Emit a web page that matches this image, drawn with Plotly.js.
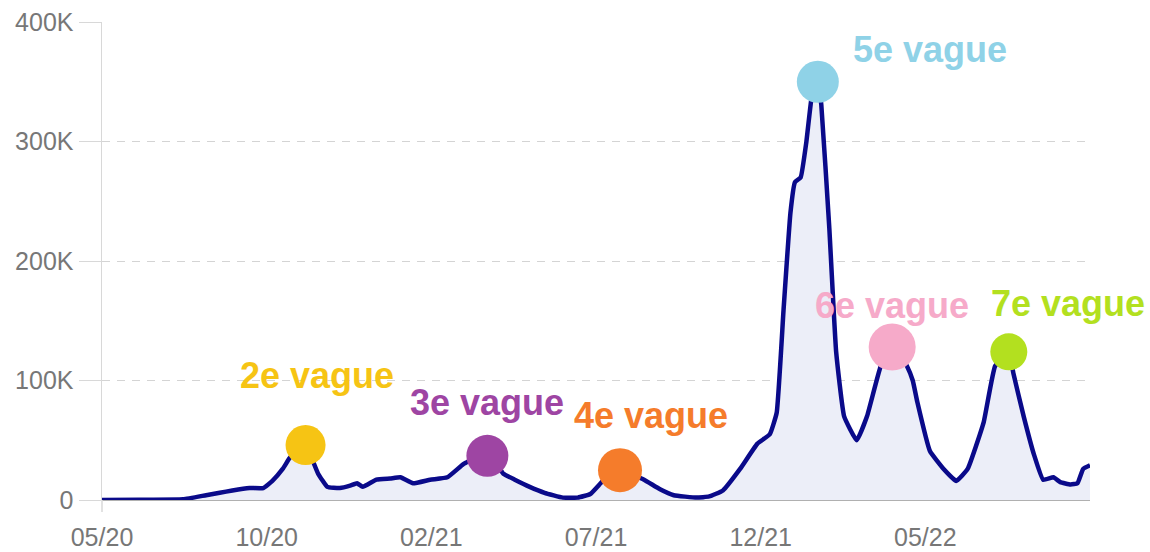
<!DOCTYPE html>
<html>
<head>
<meta charset="utf-8">
<script src="https://cdn.plot.ly/plotly-3.0.1.min.js"></script>
<style>
  html, body { margin: 0; padding: 0; background: #ffffff; }
  #chart { width: 1150px; height: 552px; }
</style>
</head>
<body>
<div id="chart"></div>
<script>
// ---- Data ----
const dates = [
  '2020-05-14','2020-06-16','2020-07-24','2020-08-13','2020-08-25','2020-09-05','2020-09-20','2020-10-02',
  '2020-10-10','2020-10-19','2020-10-25','2020-11-01','2020-11-08','2020-11-13','2020-11-19','2020-11-27',
  '2020-12-08','2020-12-17','2020-12-23','2020-12-28','2021-01-09','2021-01-21','2021-01-30','2021-02-10',
  '2021-02-25','2021-03-12','2021-03-26','2021-04-05','2021-04-16','2021-04-24','2021-04-30','2021-05-10',
  '2021-05-23','2021-06-05','2021-06-21','2021-07-04','2021-07-15','2021-07-24','2021-08-01','2021-08-10',
  '2021-08-21','2021-08-31','2021-09-14','2021-09-26','2021-10-16','2021-10-27','2021-11-08','2021-11-23',
  '2021-12-08','2021-12-19','2021-12-25','2021-12-31','2022-01-06','2022-01-10','2022-01-15','2022-01-20',
  '2022-01-25','2022-01-30','2022-02-02','2022-02-09','2022-02-15','2022-02-22','2022-03-05','2022-03-14',
  '2022-03-26','2022-04-06','2022-04-18','2022-04-23','2022-04-27','2022-05-08','2022-05-20','2022-05-31',
  '2022-06-10','2022-06-24','2022-07-04','2022-07-16','2022-07-20','2022-07-29','2022-08-07','2022-08-15',
  '2022-08-24','2022-08-30','2022-09-08','2022-09-14','2022-09-19','2022-09-25'
];
const cases = [
  0, 200, 600, 4000, 6000, 8000, 10000, 10000,
  16000, 26000, 35000, 42000, 46000, 36000, 22000, 11000,
  10000, 12000, 14000, 11000, 17000, 18000, 19000, 14000,
  17000, 19000, 30000, 35000, 37000, 30000, 22000, 17000,
  11000, 6000, 2000, 2000, 5000, 14000, 22000, 25000,
  21000, 17000, 9000, 4000, 2000, 3000, 8000, 26000,
  47000, 55000, 73000, 159000, 240000, 266000, 270000, 300000,
  340000, 352000, 331000, 228000, 124000, 70000, 50000, 70000,
  112000, 130000, 112000, 100000, 82000, 41000, 26000, 16000,
  26000, 65000, 112000, 124000, 106000, 70000, 38000, 17000,
  19000, 15000, 13000, 14000, 26000, 29000
];

// Wave peaks (markers + labels)
const waveLabels = ['2e vague','3e vague','4e vague','5e vague','6e vague','7e vague'];
const waveDates  = ['2020-11-08','2021-04-16','2021-08-10','2022-01-30','2022-04-05','2022-07-16'];
const waveValues = [46000, 37000, 25000, 350000, 128000, 124000];
const waveColors = ['#F6C414','#9E45A3','#F57C2B','#8FD2E7','#F6AAC9','#B3E01F'];

// Axis ticks
const xTickVals  = ['2020-05-14','2020-10-05','2021-02-26','2021-07-20','2021-12-11','2022-05-04'];
const xTickText  = ['05/20','10/20','02/21','07/21','12/21','05/22'];
const yTickVals  = [0, 100000, 200000, 300000, 400000];
const yTickText  = ['0','100K','200K','300K','400K'];

// ---- Styling ----
const markerSizes = [40, 42, 44, 42, 47, 37];
const labelShift = [ [11, 70], [0, 53], [31, 55], [112, 32], [0, 42], [59, 48] ];

const traces = [
  {
    x: dates, y: cases, type: 'scatter', mode: 'lines',
    line: { color: '#0A0A8A', width: 4.5, shape: 'spline', smoothing: 0.35 },
    fill: 'tozeroy', fillcolor: '#ECEEF8',
    cliponaxis: false, hoverinfo: 'skip'
  },
  {
    x: waveDates, y: waveValues, type: 'scatter', mode: 'markers',
    marker: { size: markerSizes, color: waveColors, opacity: 1, line: { width: 0 } },
    cliponaxis: false, hoverinfo: 'skip'
  }
];

const annotations = waveLabels.map((t, i) => ({
  x: waveDates[i], y: waveValues[i], xref: 'x', yref: 'y',
  text: t, showarrow: false,
  xshift: labelShift[i][0], yshift: labelShift[i][1],
  font: { family: 'Arial, "Liberation Sans", sans-serif', size: 36, color: waveColors[i], weight: 'bold' }
}));

const layout = {
  width: 1150, height: 552,
  margin: { l: 102, r: 60, t: 22, b: 52 },
  paper_bgcolor: '#ffffff', plot_bgcolor: '#ffffff',
  showlegend: false,
  font: { family: 'Arial, "Liberation Sans", sans-serif', color: '#777' },
  xaxis: {
    type: 'date', range: ['2020-05-14', '2022-09-25'],
    tickmode: 'array', tickvals: xTickVals, ticktext: xTickText,
    showgrid: false, zeroline: false, showline: false,
    ticks: 'outside', ticklen: 15, tickcolor: 'rgba(0,0,0,0)',
    tickfont: { size: 25, color: '#777' }
  },
  yaxis: {
    range: [0, 400000],
    tickmode: 'array', tickvals: yTickVals, ticktext: yTickText,
    showgrid: true, gridcolor: '#d4d4d4', gridwidth: 1, griddash: '8px,7px',
    zeroline: true, zerolinecolor: '#b0b0b0', zerolinewidth: 2,
    showline: true, linecolor: '#d8d8d8', linewidth: 1.5,
    ticks: 'outside', ticklen: 22, tickcolor: '#d8d8d8', tickwidth: 1,
    tickfont: { size: 25, color: '#777' }
  },
  shapes: [
    { type: 'line', xref: 'paper', yref: 'paper', x0: 0, x1: 0, y0: -0.025, y1: 0,
      line: { color: '#d8d8d8', width: 1.5 } }
  ],
  annotations: annotations
};

Plotly.newPlot('chart', traces, layout, { displayModeBar: false, staticPlot: true });
</script>
</body>
</html>
